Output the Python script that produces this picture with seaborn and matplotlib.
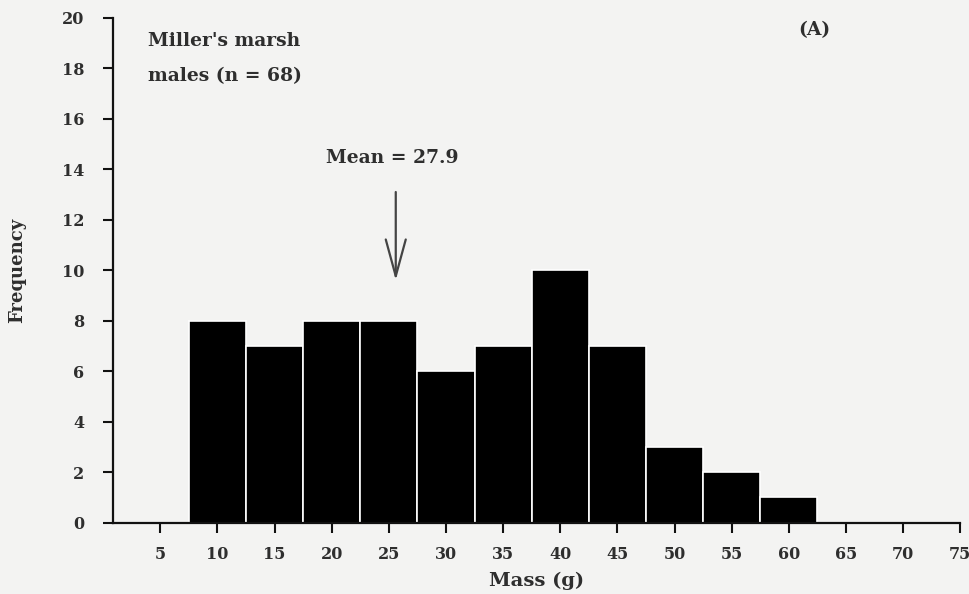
import numpy as np
import pandas as pd
import matplotlib
matplotlib.use("Agg")
import matplotlib.pyplot as plt
import seaborn as sns

# Data
mass_bins = [10, 15, 20, 25, 30, 35, 40, 45, 50, 55, 60]
frequency = [8, 7, 8, 8, 6, 7, 10, 7, 3, 2, 1]
x_ticks = [5, 10, 15, 20, 25, 30, 35, 40, 45, 50, 55, 60, 65, 70, 75]
y_ticks = [0, 2, 4, 6, 8, 10, 12, 14, 16, 18, 20]
mean_mass = 27.9

sns.set_theme(style="ticks")
plt.rcParams['font.family'] = ['DejaVu Serif', 'Liberation Serif']
plt.rcParams['font.weight'] = 'bold'

bg = '#f3f3f2'
txt = '#2e2e2e'
fig = plt.figure(figsize=(9.7, 5.94), dpi=100, facecolor=bg)
ax = fig.add_axes([0.117, 0.120, 0.873, 0.850])
ax.set_facecolor(bg)

df = pd.DataFrame({"mass": mass_bins, "freq": frequency})
sns.histplot(data=df, x="mass", weights="freq", binwidth=5,
             binrange=(mass_bins[0] - 2.5, mass_bins[-1] + 2.5), ax=ax,
             color="black", edgecolor="white", linewidth=1.2, alpha=1)

ax.set_xlim(0.9, 75)
ax.set_ylim(0, 20)
ax.set_xticks(x_ticks)
ax.set_yticks(y_ticks)
ax.tick_params(axis='both', colors='#111111', labelcolor=txt, labelsize=11.5,
               width=1.5, length=7)
ax.tick_params(axis='x', pad=10)
ax.tick_params(axis='y', pad=14)
for lab in ax.get_xticklabels() + ax.get_yticklabels():
    lab.set_fontweight('bold')
for s in ['top', 'right']:
    ax.spines[s].set_visible(False)
for s in ['left', 'bottom']:
    ax.spines[s].set_linewidth(1.6)
    ax.spines[s].set_color('#111111')

ax.set_xlabel("Mass (g)", fontsize=14, fontweight='bold', color=txt, labelpad=6)
ax.set_ylabel("Frequency", fontsize=13, fontweight='bold', color=txt, labelpad=26)

ax.text(3.9, 19.1, "Miller's marsh", fontsize=13.5, fontweight='bold', color=txt,
        va='center', ha='left')
ax.text(3.9, 17.7, "males (n = 68)", fontsize=13.5, fontweight='bold', color=txt,
        va='center', ha='left')
ax.text(62.2, 19.5, "(A)", fontsize=13.5, fontweight='bold', color=txt,
        va='center', ha='center')
ax.text(25.3, 14.45, "Mean = 27.9", fontsize=13.5, fontweight='bold', color=txt,
        va='center', ha='center')
ax.annotate("", xy=(25.6, 9.6), xytext=(25.6, 13.1),
            arrowprops=dict(arrowstyle='->,head_length=2.2,head_width=0.6',
                            color='#444444', lw=1.6, shrinkA=0, shrinkB=0))

fig.savefig("out.png", dpi=100, facecolor=bg)
